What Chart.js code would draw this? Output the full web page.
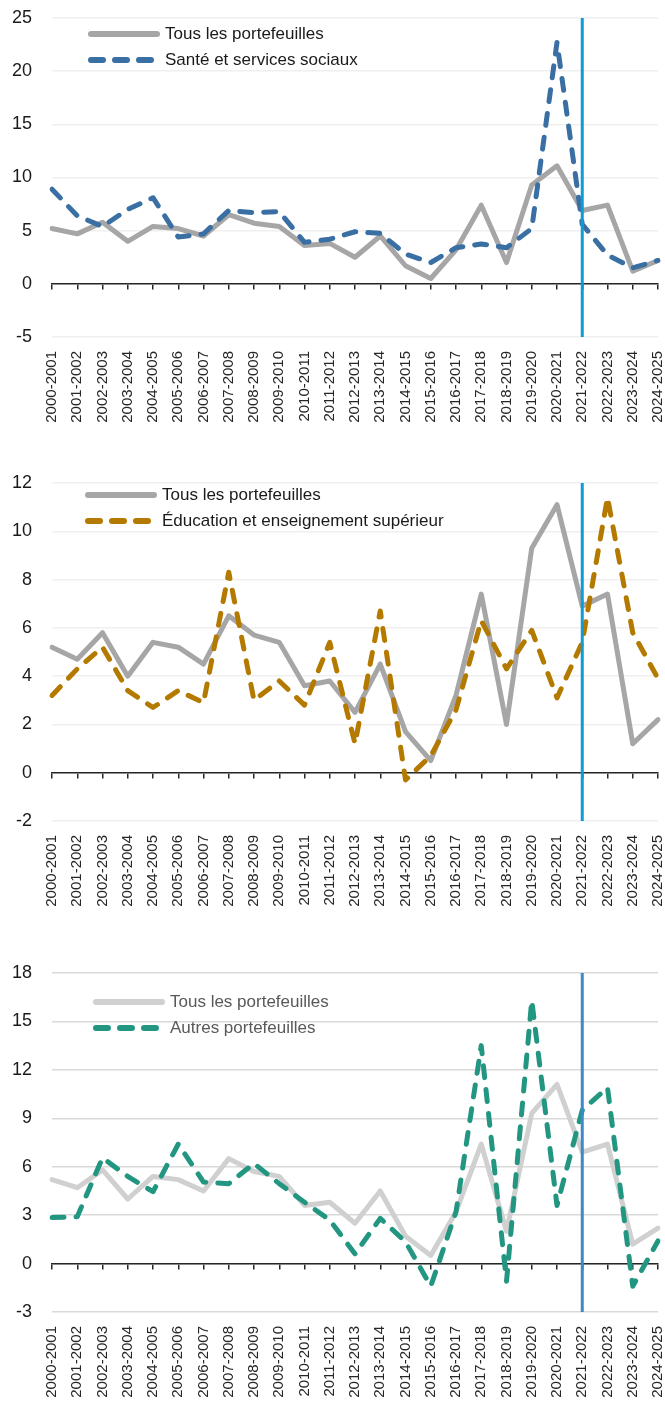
<!DOCTYPE html>
<html lang="fr">
<head>
<meta charset="utf-8">
<script src="https://cdn.jsdelivr.net/npm/chart.js@4.4.1/dist/chart.umd.min.js"></script>
<style>
  body { margin: 0; width: 665px; height: 1405px; background: #fff; position: relative; overflow: hidden;
         font-family: "Liberation Sans", sans-serif; }
  .bloc { position: absolute; left: 0; width: 665px; }
  .bloc canvas { position: absolute; left: 0; top: 0; }
  .item { position: absolute; height: 24px; display: flex; align-items: center; white-space: nowrap; font-size: 17px; z-index: 2; }
  .item svg { width: 72px; height: 24px; margin-right: 5px; }
</style>
</head>
<body>

<div class="bloc" id="bloc1" style="top:0px;height:440px">
  <canvas id="graph1" width="665" height="440"></canvas>
</div>
<div class="bloc" id="bloc2" style="top:460px;height:460px">
  <canvas id="graph2" width="665" height="460"></canvas>
</div>
<div class="bloc" id="bloc3" style="top:940px;height:465px">
  <canvas id="graph3" width="665" height="465"></canvas>
</div>

<script>
const periodes = ['2000-2001', '2001-2002', '2002-2003', '2003-2004', '2004-2005', '2005-2006', '2006-2007',
  '2007-2008', '2008-2009', '2009-2010', '2010-2011', '2011-2012', '2012-2013', '2013-2014', '2014-2015',
  '2015-2016', '2016-2017', '2017-2018', '2018-2019', '2019-2020', '2020-2021', '2021-2022', '2022-2023',
  '2023-2024', '2024-2025'];

// repère vertical
const anneeRepere = '2021-2022';

const tous = [5.2, 4.7, 5.8, 4.0, 5.4, 5.2, 4.5, 6.5, 5.7, 5.4, 3.6, 3.8, 2.5, 4.5, 1.7, 0.5, 3.2, 7.4, 2.0, 9.3, 11.1, 6.9, 7.4, 1.2, 2.2];
const sante = [8.9, 6.4, 5.4, 7.0, 8.1, 4.4, 4.7, 6.9, 6.7, 6.8, 3.9, 4.2, 4.9, 4.75, 2.8, 2.0, 3.4, 3.75, 3.4, 5.2, 22.7, 5.6, 2.7, 1.5, 2.2];
const education = [3.2, 4.3, 5.2, 3.4, 2.7, 3.4, 2.9, 8.3, 3.0, 3.8, 2.8, 5.4, 1.2, 6.7, -0.3, 0.7, 2.6, 6.3, 4.3, 5.9, 3.1, 5.4, 11.4, 5.8, 3.9];
const autres = [2.85, 2.9, 6.55, 5.4, 4.45, 7.4, 5.05, 4.95, 6.2, 4.95, 3.8, 2.7, 0.6, 2.8, 1.35, -1.4, 3.2, 13.5, -1.1, 16.3, 3.6, 9.5, 10.9, -1.4, 1.4];

const nomTous = 'Tous les portefeuilles';

function sansMarge(s) {
  s.paddingLeft = 0;
  s.paddingRight = 0;
  s.paddingTop = 0;
  s.paddingBottom = 0;
}

function creerLegende(blocId, gauche, haut, couleurTous, couleurSerie, nomSerie, couleurTexte) {
  const bloc = document.getElementById(blocId);
  const lignes = [
    { nom: nomTous, couleur: couleurTous, tirets: '' },
    { nom: nomSerie, couleur: couleurSerie, tirets: '12 12' }
  ];
  lignes.forEach((l, i) => {
    const div = document.createElement('div');
    div.className = 'item';
    div.style.left = gauche + 'px';
    div.style.top = (haut + i * 25.5) + 'px';
    div.style.color = couleurTexte;
    const fin = l.tirets ? 63 : 69;
    div.innerHTML = `<svg viewBox="0 0 72 24"><line x1="3" y1="12" x2="${fin}" y2="12" stroke="${l.couleur}" stroke-width="6" stroke-linecap="round" ${l.tirets ? `stroke-dasharray="${l.tirets}"` : ''}/></svg><span>${l.nom}</span>`;
    bloc.appendChild(div);
  });
}

function creerGraphique(id, p) {
  const ctx = document.getElementById(id);
  return new Chart(ctx, {
    type: 'line',
    data: {
      labels: periodes,
      datasets: [
        {
          label: 'repere',
          data: [{ x: anneeRepere, y: p.yMin }, { x: anneeRepere, y: p.yMax }],
          borderColor: p.couleurRepere,
          borderWidth: 3,
          pointRadius: 0,
          order: 1
        },
        {
          label: p.nomSerie,
          data: p.serie,
          borderColor: p.couleurSerie,
          borderWidth: 5,
          borderDash: [12, 12],
          borderCapStyle: 'round',
          borderJoinStyle: 'round',
          pointRadius: 0,
          tension: 0,
          order: 2
        },
        {
          label: nomTous,
          data: tous,
          borderColor: p.couleurTous,
          borderWidth: 5,
          borderCapStyle: 'round',
          borderJoinStyle: 'round',
          pointRadius: 0,
          tension: 0,
          order: 3
        }
      ]
    },
    options: {
      responsive: false,
      animation: false,
      layout: { padding: { top: p.padHaut, right: 7, left: 0, bottom: 0 } },
      plugins: { legend: { display: false }, tooltip: { enabled: false } },
      scales: {
        x: {
          type: 'category',
          position: 'bottom',
          grid: { display: false, drawTicks: false },
          border: { display: false },
          ticks: {
            autoSkip: false, maxRotation: 90, minRotation: 90, padding: 14,
            color: '#262626',
            font: { family: 'Liberation Sans', size: 15 }
          },
          afterFit: s => { s.height = p.hautAxeX; sansMarge(s); }
        },
        x2: {
          type: 'category',
          position: { y: 0 },
          min: periodes[0],
          max: periodes[periodes.length - 1],
          grid: { drawOnChartArea: false, drawTicks: true, tickLength: 5, color: '#262626', lineWidth: 1.5 },
          border: { display: true, color: '#262626', width: 1.5 },
          ticks: { display: false },
          afterFit: s => { sansMarge(s); }
        },
        y: {
          min: p.yMin,
          max: p.yMax,
          ticks: {
            stepSize: p.pas, padding: 20, color: '#1a1a1a',
            font: { family: 'Liberation Sans', size: 18 }
          },
          grid: { color: p.couleurGrille, lineWidth: 1.5, drawTicks: false },
          border: { display: false },
          afterFit: s => { s.width = 52; sansMarge(s); }
        }
      }
    }
  });
}

creerGraphique('graph1', {
  serie: sante, nomSerie: 'Santé et services sociaux', couleurSerie: '#3a6fa3',
  couleurTous: '#a6a6a6', couleurRepere: '#0e9bd6', couleurGrille: '#efefef',
  yMin: -5, yMax: 25, pas: 5, padHaut: 18, hautAxeX: 103
});
creerGraphique('graph2', {
  serie: education, nomSerie: 'Éducation et enseignement supérieur', couleurSerie: '#b47a00',
  couleurTous: '#a6a6a6', couleurRepere: '#0e9bd6', couleurGrille: '#efefef',
  yMin: -2, yMax: 12, pas: 2, padHaut: 23, hautAxeX: 99
});
creerGraphique('graph3', {
  serie: autres, nomSerie: 'Autres portefeuilles', couleurSerie: '#239682',
  couleurTous: '#d0d0d0', couleurRepere: '#3d89c9', couleurGrille: '#d9d9d9',
  yMin: -3, yMax: 18, pas: 3, padHaut: 33, hautAxeX: 93
});

creerLegende('bloc1', 88, 22, '#a6a6a6', '#3a6fa3', 'Santé et services sociaux', '#1a1a1a');
creerLegende('bloc2', 85, 23, '#a6a6a6', '#b47a00', 'Éducation et enseignement supérieur', '#1a1a1a');
creerLegende('bloc3', 93, 50, '#d0d0d0', '#239682', 'Autres portefeuilles', '#595959');
</script>
</body>
</html>
